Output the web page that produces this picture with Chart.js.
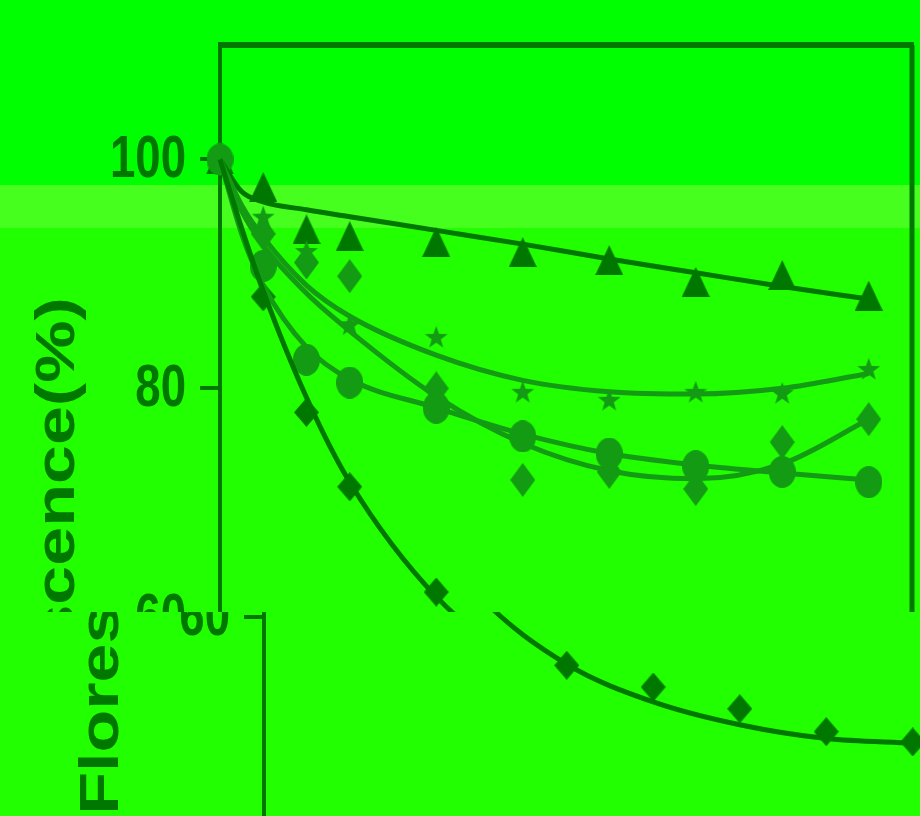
<!DOCTYPE html>
<html>
<head>
<meta charset="utf-8">
<script src="https://cdn.jsdelivr.net/npm/chart.js@4.4.1/dist/chart.umd.min.js"></script>
<style>
html, body { margin: 0; padding: 0; overflow: hidden; background: #22ff00; }
</style>
</head>
<body>
<canvas id="chart1" width="920" height="1080"></canvas>
<script>
// sampling times (x) and measured fluorescence (%)
var times = [0, 1, 2, 3, 5, 7, 9, 11, 13, 15];
var triangleVals = [100, 97.6, 93.9, 93.3, 92.8, 91.9, 91.2, 89.3, 89.9, 88.1];
var starVals = [100, 95, 92, 85.6, 84.5, 79.7, 79, 79.7, 79.6, 81.7];
var diamondVals = [100, 93.5, 91, 89.8, 80, 72, 72.7, 71.2, 75.3, 77.3];
var circleVals = [100, 90.7, 82.5, 80.5, 78.3, 75.8, 74.3, 73.2, 72.7, 71.8];
var darkDiamondVals = [100, 88, 77.9, 71.4, 62.2, 55.8, 53.9, 52, 50, 49.1];

// fitted curves
var fitTimes = [0, 0.5, 1, 2, 3, 5, 7, 9, 11, 13, 15];
var triangleFit = [100, 97.2, 96.3, 95.6, 95.0, 93.8, 92.6, 91.3, 90.1, 88.9, 87.8];
var starFit = [100, 96, 93.2, 89, 86.3, 82.9, 80.7, 79.7, 79.5, 80.0, 81.3];
var diamondFit = [100, 95.5, 92.5, 88.3, 85, 79.3, 75.2, 72.8, 72.1, 73.4, 77.3];
var circleFit = [100, 93.5, 89, 83.6, 80.8, 78.3, 76, 74.3, 73.3, 72.6, 72];
var darkFit = [100, 94, 88.5, 79.2, 71.8, 61.8, 55.9, 52.6, 50.6, 49.4, 49.0];

var yTicks = [100, 80, 60, 40];
var yTitle = 'Florescence(%)';

var dark = '#007800';
var mid = '#139c13';

function pts(xs, ys) {
    return xs.map(function (x, i) { return {x: x, y: ys[i]}; });
}

function marker(shape, color, w, h) {
    var c = document.createElement('canvas');
    c.width = w; c.height = h;
    var g = c.getContext('2d');
    g.fillStyle = color;
    g.beginPath();
    if (shape == 'tri') {
        g.moveTo(w / 2, 0); g.lineTo(w, h); g.lineTo(0, h);
    } else if (shape == 'dia') {
        g.moveTo(w / 2, 0); g.lineTo(w, h / 2); g.lineTo(w / 2, h); g.lineTo(0, h / 2);
    } else if (shape == 'ell') {
        g.ellipse(w / 2, h / 2, w / 2, h / 2, 0, 0, Math.PI * 2);
    } else if (shape == 'star') {
        for (var i = 0; i < 10; i++) {
            var r = i % 2 ? w * 0.2 : w / 2;
            var a = -Math.PI / 2 + i * Math.PI / 5;
            g.lineTo(w / 2 + r * Math.cos(a), h / 2 + 1 + r * Math.sin(a) * h / w);
        }
    }
    g.closePath();
    g.fill();
    return c;
}

function fitSet(data, color) {
    return {
        type: 'scatter', data: data, showLine: true, borderColor: color, borderWidth: 5,
        pointRadius: 0, tension: 0.4, cubicInterpolationMode: 'monotone', clip: false
    };
}

function markSet(data, img) {
    return { type: 'scatter', data: data, pointStyle: img, pointRadius: 13, clip: false };
}

var bgPlugin = {
    id: 'bg',
    beforeDraw: function (chart) {
        var ctx = chart.ctx;
        ctx.save();
        ctx.fillStyle = '#00ff00';
        ctx.fillRect(0, 0, chart.width, 185);
        ctx.fillStyle = '#46ff1e';
        ctx.fillRect(0, 185, chart.width, 43);
        ctx.fillStyle = '#22ff00';
        ctx.fillRect(0, 228, chart.width, chart.height - 228);
        ctx.restore();
    }
};

// frame, narrow tick labels, stretched axis title, then the sideways slip of the lower scan
var framePlugin = {
    id: 'frame',
    afterDraw: function (chart) {
        var a = chart.chartArea, ctx = chart.ctx, ys = chart.scales.y;
        ctx.save();
        ctx.strokeStyle = dark;
        ctx.lineWidth = 6;
        ctx.beginPath();
        ctx.moveTo(a.left - 2, a.top); ctx.lineTo(a.right + 2, a.top);
        ctx.stroke();
        ctx.lineWidth = 5;
        ctx.beginPath();
        ctx.moveTo(a.right, a.top); ctx.lineTo(a.right, a.bottom);
        ctx.stroke();

        ctx.fillStyle = dark;
        ctx.font = 'bold 60px "Liberation Sans", Arial, sans-serif';
        ctx.textAlign = 'right';
        ctx.textBaseline = 'middle';
        yTicks.forEach(function (v) {
            ctx.save();
            ctx.translate(a.left - 34, ys.getPixelForValue(v) + 1);
            ctx.scale(0.76, 1);
            ctx.fillText(String(v), 0, 0);
            ctx.restore();
        });

        ctx.translate(74, 556);
        ctx.rotate(-Math.PI / 2);
        ctx.scale(1.25, 1);
        ctx.font = 'bold 56px "Liberation Sans", Arial, sans-serif';
        ctx.textAlign = 'center';
        ctx.textBaseline = 'alphabetic';
        ctx.fillText(yTitle, 0, 0);
        ctx.restore();

        var cut = 612, shift = 44;
        var img = ctx.getImageData(0, cut, chart.width - shift, chart.height - cut);
        ctx.fillStyle = '#22ff00';
        ctx.fillRect(0, cut, chart.width, chart.height - cut);
        ctx.putImageData(img, shift, cut);
    }
};

var config = {
    type: 'scatter',
    data: {
        datasets: [
            fitSet(pts(fitTimes, darkFit), dark),
            fitSet(pts(fitTimes, circleFit), mid),
            fitSet(pts(fitTimes, diamondFit), mid),
            fitSet(pts(fitTimes, starFit), mid),
            fitSet(pts(fitTimes, triangleFit), dark),
            markSet(pts(times, circleVals), marker('ell', mid, 27, 32)),
            markSet(pts(times, diamondVals), marker('dia', mid, 25, 34)),
            markSet(pts(times, starVals), marker('star', mid, 24, 24)),
            markSet(pts(times, darkDiamondVals), marker('dia', dark, 25, 29)),
            markSet(pts(times, triangleVals), marker('tri', dark, 28, 30))
        ]
    },
    options: {
        responsive: false,
        animation: false,
        layout: { autoPadding: false, padding: { top: 45, right: 8, left: 0, bottom: 5 } },
        plugins: { legend: { display: false }, tooltip: { enabled: false } },
        scales: {
            x: { type: 'linear', min: 0, max: 16, display: false },
            y: {
                min: 20, max: 110,
                afterFit: function (s) { s.width = 220; },
                afterBuildTicks: function (s) {
                    s.ticks = yTicks.map(function (v) { return {value: v}; });
                },
                grid: { drawOnChartArea: false, drawTicks: true, tickLength: 20, color: dark, lineWidth: 4 },
                border: { display: true, color: dark, width: 4 },
                ticks: { display: false }
            }
        }
    },
    plugins: [bgPlugin, framePlugin]
};

var myChart = new Chart(document.getElementById('chart1'), config);
</script>
</body>
</html>
